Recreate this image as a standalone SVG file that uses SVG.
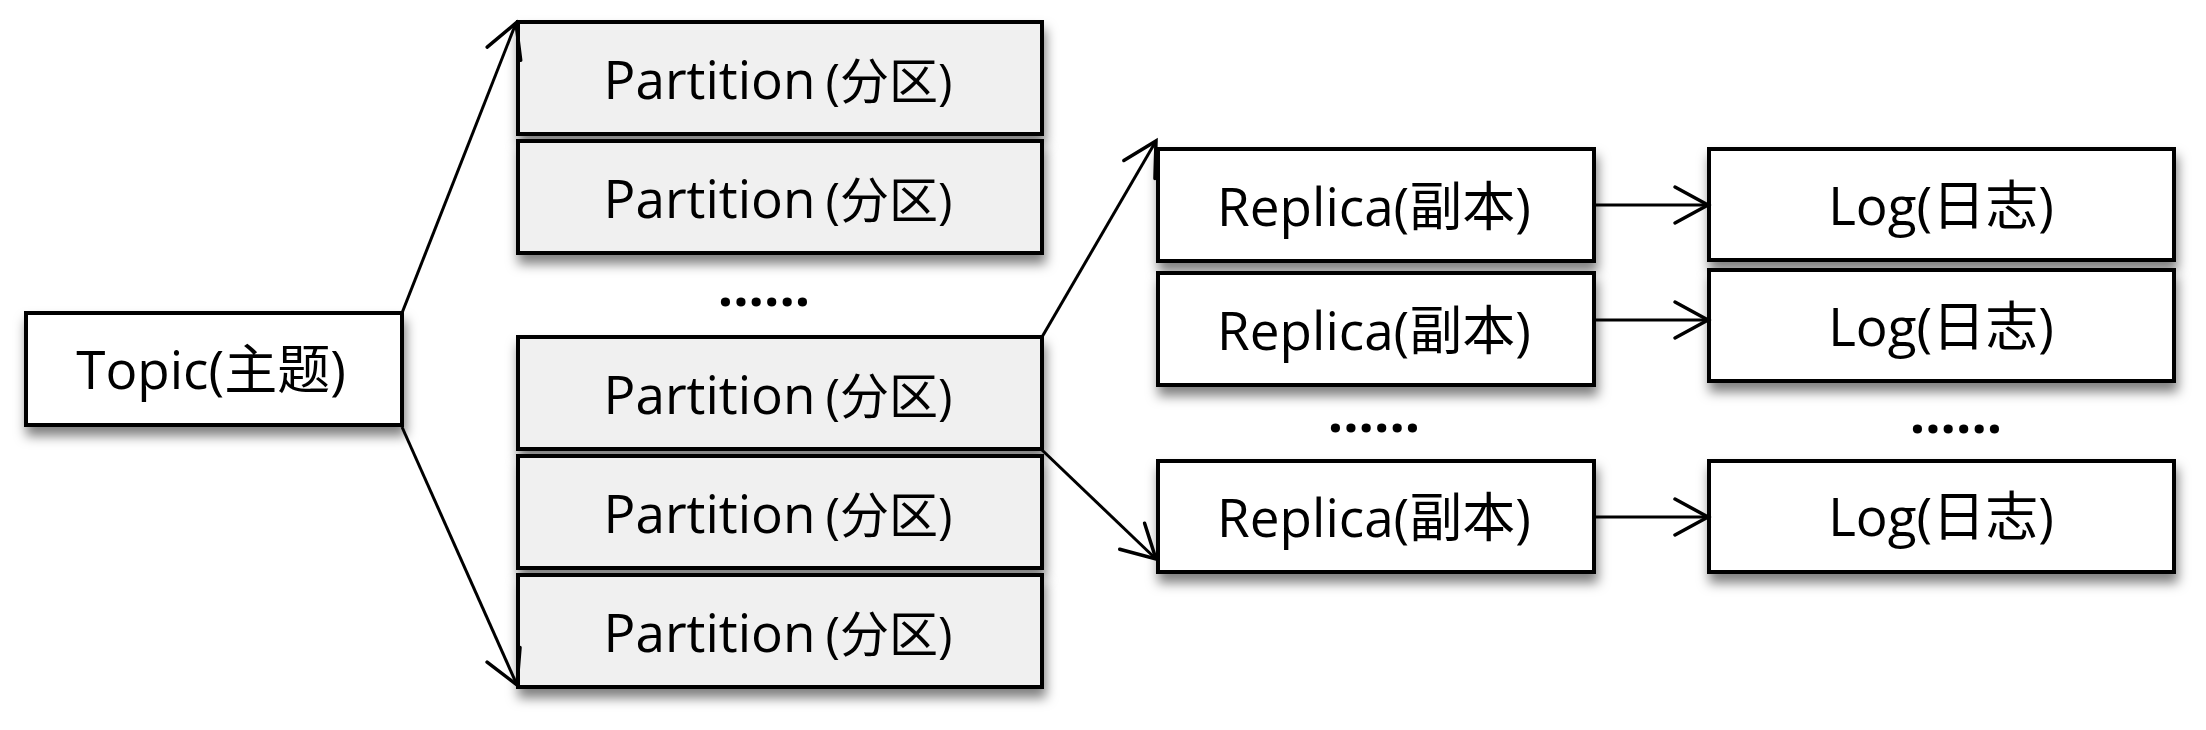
<svg xmlns="http://www.w3.org/2000/svg" width="2206" height="730" viewBox="0 0 2206 730">
  <style>
    .box { stroke: #000; stroke-width: 4; filter: url(#shadow); }
    .white { fill: #ffffff; }
    .grey { fill: #f0f0f0; }
    .lbl { font-family: "Open Sans", "Noto Sans CJK SC", sans-serif; font-size: 53px; fill: #000; text-anchor: middle; }
    .small { font-size: 49px; }
    .dots { font-family: "Open Sans", sans-serif; font-size: 54px; font-weight: bold; fill: #000; text-anchor: middle; }
    .conn { stroke: #000; stroke-width: 3; fill: none; marker-end: url(#arrow); }
  </style>
  <defs>
    <filter id="shadow" x="-10%" y="-20%" width="130%" height="160%">
      <feDropShadow dx="2" dy="9" stdDeviation="6" flood-color="#000" flood-opacity="0.5"/>
    </filter>
    <marker id="arrow" markerUnits="userSpaceOnUse" viewBox="-40 -22 46 44" refX="0" refY="0" markerWidth="46" markerHeight="44" orient="auto">
      <path d="M-33,-18 L0,0 L-33,18" fill="none" stroke="#000" stroke-width="3.5" stroke-linecap="round" stroke-linejoin="miter"/>
    </marker>
  </defs>
  <rect width="2206" height="730" fill="#ffffff"/>

  <g id="topic">
    <rect class="box white" x="26" y="313" width="376" height="112"/>
    <text class="lbl" x="211" y="389">Topic(主题)</text>
  </g>

  <g id="partition1">
    <rect class="box grey" x="518" y="22" width="524" height="112"/>
    <text class="lbl" x="778" y="99">Partition<tspan class="small" dx="10">(分区)</tspan></text>
  </g>
  <g id="partition2">
    <rect class="box grey" x="518" y="141" width="524" height="112"/>
    <text class="lbl" x="778" y="218">Partition<tspan class="small" dx="10">(分区)</tspan></text>
  </g>
  <g id="partition-dots">
    <text class="dots" x="764" y="306">......</text>
  </g>
  <g id="partition3">
    <rect class="box grey" x="518" y="337" width="524" height="112"/>
    <text class="lbl" x="778" y="414">Partition<tspan class="small" dx="10">(分区)</tspan></text>
  </g>
  <g id="partition4">
    <rect class="box grey" x="518" y="456" width="524" height="112"/>
    <text class="lbl" x="778" y="533">Partition<tspan class="small" dx="10">(分区)</tspan></text>
  </g>
  <g id="partition5">
    <rect class="box grey" x="518" y="575" width="524" height="112"/>
    <text class="lbl" x="778" y="652">Partition<tspan class="small" dx="10">(分区)</tspan></text>
  </g>

  <g id="replica1">
    <rect class="box white" x="1158" y="149" width="436" height="112"/>
    <text class="lbl" x="1374" y="226">Replica(副本)</text>
  </g>
  <g id="replica2">
    <rect class="box white" x="1158" y="273" width="436" height="112"/>
    <text class="lbl" x="1374" y="350">Replica(副本)</text>
  </g>
  <g id="replica-dots">
    <text class="dots" x="1374" y="432">......</text>
  </g>
  <g id="replica3">
    <rect class="box white" x="1158" y="461" width="436" height="111"/>
    <text class="lbl" x="1374" y="537">Replica(副本)</text>
  </g>

  <g id="log1">
    <rect class="box white" x="1709" y="149" width="465" height="111"/>
    <text class="lbl" x="1941" y="225">Log(日志)</text>
  </g>
  <g id="log2">
    <rect class="box white" x="1709" y="270" width="465" height="111"/>
    <text class="lbl" x="1941" y="346">Log(日志)</text>
  </g>
  <g id="log-dots">
    <text class="dots" x="1956" y="433">......</text>
  </g>
  <g id="log3">
    <rect class="box white" x="1709" y="461" width="465" height="111"/>
    <text class="lbl" x="1941" y="536">Log(日志)</text>
  </g>

  <g id="connectors">
    <line class="conn" x1="402" y1="313" x2="516" y2="23"/>
    <line class="conn" x1="402" y1="427" x2="517" y2="685"/>
    <line class="conn" x1="1042" y1="337" x2="1156" y2="141"/>
    <line class="conn" x1="1042" y1="450" x2="1156" y2="559"/>
    <line class="conn" x1="1594" y1="205" x2="1708" y2="205"/>
    <line class="conn" x1="1594" y1="320" x2="1708" y2="320"/>
    <line class="conn" x1="1594" y1="517" x2="1708" y2="517"/>
  </g>
</svg>
